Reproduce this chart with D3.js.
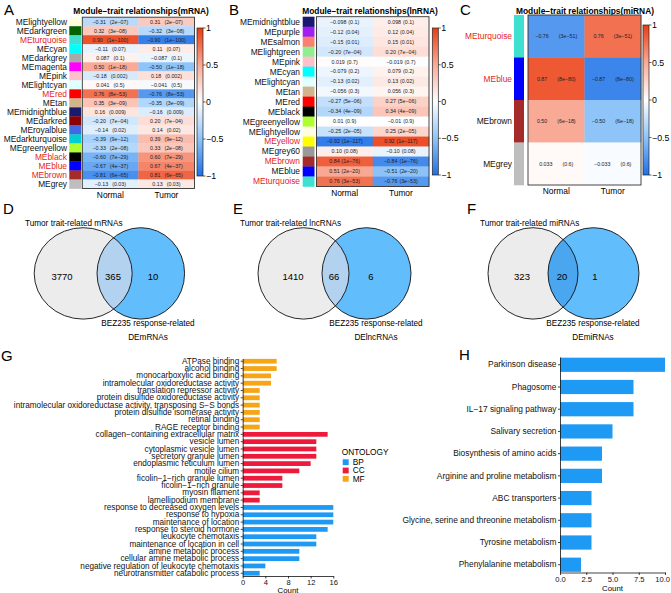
<!DOCTYPE html>
<html>
<head>
<meta charset="utf-8">
<script src="https://cdn.jsdelivr.net/npm/d3@7"></script>
<style>
  body { margin: 0; background: #fff; }
  text { font-family: "Liberation Sans", Arial, sans-serif; }
</style>
</head>
<body>
<script>
// ---------- data: module-trait heatmaps ----------
var mrnaModules = ["lightyellow", "darkgreen", "turquoise", "cyan", "darkgrey", "magenta", "pink", "lightcyan", "red", "tan",
  "midnightblue", "darkred", "royalblue", "darkturquoise", "greenyellow", "black", "blue", "brown", "grey"];
var mrnaNormal = ["-0.31", "0.32", "0.90", "-0.11", "0.087", "0.50", "-0.18", "0.041", "0.76", "0.35",
  "0.16", "-0.20", "-0.14", "-0.39", "-0.33", "-0.60", "-0.67", "-0.81", "-0.13"];
var mrnaTumor = ["0.31", "-0.32", "-0.90", "0.11", "-0.087", "-0.50", "0.18", "-0.041", "-0.76", "-0.35",
  "-0.16", "0.20", "0.14", "0.39", "0.33", "0.60", "0.67", "0.81", "0.13"];
var mrnaP = ["2e-07", "3e-08", "1e-100", "0.07", "0.1", "1e-18", "0.002", "0.5", "8e-53", "3e-09",
  "0.009", "7e-04", "0.02", "9e-12", "2e-08", "7e-29", "4e-37", "6e-65", "0.03"];
var mrnaHighlight = ["turquoise", "red", "black", "blue", "brown"];

var lncModules = ["midnightblue", "purple", "salmon", "lightgreen", "pink", "cyan", "lightcyan", "tan", "red", "black",
  "greenyellow", "lightyellow", "yellow", "grey60", "brown", "blue", "turquoise"];
var lncNormal = ["-0.098", "-0.12", "-0.15", "-0.20", "0.019", "-0.079", "-0.13", "-0.056", "-0.27", "-0.34",
  "0.01", "-0.25", "-0.92", "0.10", "0.84", "0.51", "0.76"];
var lncTumor = ["0.098", "0.12", "0.15", "0.20", "-0.019", "0.079", "0.13", "0.056", "0.27", "0.34",
  "-0.01", "0.25", "0.92", "-0.10", "-0.84", "-0.51", "-0.76"];
var lncP = ["0.1", "0.04", "0.01", "7e-04", "0.7", "0.2", "0.02", "0.3", "5e-06", "4e-09",
  "0.9", "2e-05", "1e-117", "0.08", "1e-76", "2e-20", "3e-53"];
var lncHighlight = ["yellow", "brown", "turquoise"];

var miModules = ["turquoise", "blue", "brown", "grey"];
var miNormal = ["-0.76", "0.87", "0.50", "0.033"];
var miTumor = ["0.76", "-0.87", "-0.50", "-0.033"];
var miP = ["3e-51", "8e-80", "6e-18", "0.6"];
var miHighlight = ["turquoise", "blue"];

var traits = ["Normal", "Tumor"];
var colorbarTicks = [1, 0.5, 0, -0.5, -1];

var moduleColors = {
  lightyellow: "#FFFFE0", darkgreen: "#006400", turquoise: "#40E0D0", cyan: "#00FFFF", darkgrey: "#A9A9A9",
  magenta: "#FF00FF", pink: "#FFC0CB", lightcyan: "#E0FFFF", red: "#FF0000", tan: "#D2B48C",
  midnightblue: "#191970", darkred: "#8B0000", royalblue: "#4169E1", darkturquoise: "#00CED1",
  greenyellow: "#ADFF2F", black: "#000000", blue: "#0000FF", brown: "#A52A2A", grey: "#BEBEBE",
  purple: "#A020F0", salmon: "#FA8072", lightgreen: "#90EE90", yellow: "#FFFF00", grey60: "#999999"
};

// ---------- data: venn diagrams ----------
var vennLeft = [3770, 1410, 323];
var vennShared = [365, 66, 20];
var vennRight = [10, 6, 1];
var vennTopLabels = ["Tumor trait-related mRNAs", "Tumor trait-related lncRNAs", "Tumor trait-related miRNAs"];
var vennBottomLabels = ["DEmRNAs", "DElncRNAs", "DEmiRNAs"];

// ---------- data: GO enrichment ----------
var goTerms = ["ATPase binding", "alcohol binding", "monocarboxylic acid binding", "intramolecular oxidoreductase activity",
  "translation repressor activity", "protein disulfide oxidoreductase activity",
  "intramolecular oxidoreductase activity, transposing S\u2212S bonds", "protein disulfide isomerase activity",
  "retinal binding", "RAGE receptor binding",
  "collagen\u2212containing extracellular matrix", "vesicle lumen", "cytoplasmic vesicle lumen", "secretory granule lumen",
  "endoplasmic reticulum lumen", "motile cilium", "ficolin\u22121\u2212rich granule lumen", "ficolin\u22121\u2212rich granule",
  "myosin filament", "lamellipodium membrane",
  "response to decreased oxygen levels", "response to hypoxia", "maintenance of location", "response to steroid hormone",
  "leukocyte chemotaxis", "maintenance of location in cell", "amine metabolic process", "cellular amine metabolic process",
  "negative regulation of leukocyte chemotaxis", "neurotransmitter catabolic process"];
var goCounts = [6, 6, 5, 5, 3, 3, 3, 3, 3, 3,
  15, 13, 13, 13, 12, 10, 7, 7, 3, 3,
  16, 16, 16, 15, 13, 13, 10, 10, 4, 3];
var goOntology = ["MF", "MF", "MF", "MF", "MF", "MF", "MF", "MF", "MF", "MF",
  "CC", "CC", "CC", "CC", "CC", "CC", "CC", "CC", "CC", "CC",
  "BP", "BP", "BP", "BP", "BP", "BP", "BP", "BP", "BP", "BP"];
var ontologyLevels = ["BP", "CC", "MF"];
var goTicks = [0, 4, 8, 12, 16];

// ---------- data: KEGG enrichment ----------
var keggTerms = ["Parkinson disease", "Phagosome", "IL\u221217 signaling pathway", "Salivary secretion",
  "Biosynthesis of amino acids", "Arginine and proline metabolism", "ABC transporters",
  "Glycine, serine and threonine metabolism", "Tyrosine metabolism", "Phenylalanine metabolism"];
var keggCounts = [10, 7, 7, 5, 4, 4, 3, 3, 3, 2];
var keggTicks = [0, 2.5, 5, 7.5, 10];

// ---------- drawing ----------
var W = 671, H = 593;
var svg = d3.select("body").append("svg").attr("width", W).attr("height", H);
svg.append("rect").attr("width", W).attr("height", H).attr("fill", "#fff");
var defs = svg.append("defs");

var heat = d3.scaleLinear()
  .domain([-1, -0.5, 0, 0.5, 1])
  .range(["#1f6fe6", "#8ec4f8", "#ffffff", "#f9aa96", "#ea3c12"]);
var RED = "#e41e1e";

function minus(s) { return s.replace(/-/g, "\u2212"); }

function panelLetter(t, x, y) {
  svg.append("text").attr("x", x).attr("y", y).attr("font-size", 15).text(t);
}

function heatmap(c) {
  var g = svg.append("g");
  var y = d3.scaleBand().domain(c.modules).range([c.top, c.bottom]);
  var x = d3.scaleBand().domain(traits).range([c.left, c.right]);
  var cols = [c.normal, c.tumor];

  g.append("text").attr("x", c.titleX).attr("y", 14).attr("text-anchor", "middle")
    .attr("font-size", 8.4).attr("font-weight", "bold")
    .text("Module\u2212trait relationships(" + c.kind + ")");

  c.modules.forEach(function (m, i) {
    traits.forEach(function (t, j) {
      g.append("rect").attr("x", x(t)).attr("y", y(m))
        .attr("width", x.bandwidth() + 0.3).attr("height", y.bandwidth() + 0.3)
        .attr("fill", heat(+cols[j][i]));
      var txt = g.append("text").attr("x", x(t) + x.bandwidth() / 2).attr("y", y(m) + y.bandwidth() / 2)
        .attr("dy", "0.35em").attr("text-anchor", "middle").attr("font-size", 5.3).attr("fill", "#222");
      txt.append("tspan").text(minus(cols[j][i]));
      txt.append("tspan").attr("dx", c.gap).text("(" + minus(c.p[i]) + ")");
    });
    g.append("rect").attr("x", c.swX).attr("y", y(m)).attr("width", c.swW).attr("height", y.bandwidth() + 0.3)
      .attr("fill", moduleColors[m]);
    g.append("text").attr("x", c.labelX).attr("y", y(m) + y.bandwidth() / 2).attr("dy", "0.35em")
      .attr("text-anchor", "end").attr("font-size", 8.4)
      .attr("fill", c.highlight.indexOf(m) >= 0 ? RED : "#111")
      .text("ME" + m);
  });

  g.append("rect").attr("x", c.left).attr("y", c.top).attr("width", c.right - c.left).attr("height", c.bottom - c.top)
    .attr("fill", "none").attr("stroke", "#333").attr("stroke-width", 0.9);

  traits.forEach(function (t) {
    g.append("text").attr("x", x(t) + x.bandwidth() / 2).attr("y", c.bottom + 9)
      .attr("text-anchor", "middle").attr("font-size", 8.4).text(t);
  });

  // colour bar
  var gid = "grad-" + c.kind;
  var grad = defs.append("linearGradient").attr("id", gid).attr("x1", 0).attr("x2", 0).attr("y1", 0).attr("y2", 1);
  d3.range(0, 1.0001, 0.05).forEach(function (f) {
    grad.append("stop").attr("offset", f).attr("stop-color", heat(1 - 2 * f));
  });
  var cy = d3.scaleLinear().domain([1, -1]).range([c.cbTop, c.cbBottom]);
  g.append("rect").attr("x", c.cbX).attr("y", c.cbTop).attr("width", 6).attr("height", c.cbBottom - c.cbTop)
    .attr("fill", "url(#" + gid + ")").attr("stroke", "#222").attr("stroke-width", 0.7);
  colorbarTicks.forEach(function (v) {
    g.append("line").attr("x1", c.cbX + 6).attr("x2", c.cbX + 8.5).attr("y1", cy(v)).attr("y2", cy(v))
      .attr("stroke", "#222").attr("stroke-width", 0.7);
    g.append("text").attr("x", c.cbX + 9).attr("y", cy(v)).attr("dy", "0.35em").attr("font-size", 8.8)
      .text(v === 0 ? "0" : minus(String(v)));
  });
}

panelLetter("A", 4, 15);
heatmap({ kind: "mRNA", modules: mrnaModules, normal: mrnaNormal, tumor: mrnaTumor, p: mrnaP, highlight: mrnaHighlight,
  left: 82.3, right: 194.5, top: 17.2, bottom: 188.5, swX: 69.3, swW: 12, labelX: 67, titleX: 141,
  cbX: 197, cbTop: 28, cbBottom: 176, gap: 4 });

panelLetter("B", 229, 15);
heatmap({ kind: "lnRNA", modules: lncModules, normal: lncNormal, tumor: lncTumor, p: lncP, highlight: lncHighlight,
  left: 316.5, right: 429, top: 16.7, bottom: 186.5, swX: 302.7, swW: 11.8, labelX: 300, titleX: 370,
  cbX: 432.3, cbTop: 28, cbBottom: 175, gap: 2 });

panelLetter("C", 460, 15);
heatmap({ kind: "miRNA", modules: miModules, normal: miNormal, tumor: miTumor, p: miP, highlight: miHighlight,
  left: 528, right: 641, top: 15, bottom: 185, swX: 514, swW: 10, labelX: 512, titleX: 585,
  cbX: 643, cbTop: 25, cbBottom: 175, gap: 10 });

// ---------- venn diagrams ----------
var vennGeom = [
  { letterX: 3, L: [83.2, 49], R: [140.8, 43.8], topX: 25, botX: 148, numX: [62, 113, 153] },
  { letterX: 233, L: [303.5, 45.5], R: [366.5, 44.5], topX: 240, botX: 376, numX: [293, 334, 371] },
  { letterX: 467, L: [533, 45], R: [593.5, 45.5], topX: 480, botX: 593, numX: [522, 562, 595] }
];
var vennInterFill = ["#b3d2ef", "#b3d2ef", "#4aa6ee"];
var vcy = 273.4, vry = 45.7;

vennGeom.forEach(function (v, i) {
  var g = svg.append("g");
  panelLetter(["D", "E", "F"][i], v.letterX, 214);
  var cid = "vclip" + i;
  defs.append("clipPath").attr("id", cid).append("ellipse")
    .attr("cx", v.L[0]).attr("cy", vcy).attr("rx", v.L[1]).attr("ry", vry);
  g.append("ellipse").attr("cx", v.L[0]).attr("cy", vcy).attr("rx", v.L[1]).attr("ry", vry).attr("fill", "#ececec");
  g.append("ellipse").attr("cx", v.R[0]).attr("cy", vcy).attr("rx", v.R[1]).attr("ry", vry).attr("fill", "#62bdfc");
  g.append("ellipse").attr("cx", v.R[0]).attr("cy", vcy).attr("rx", v.R[1]).attr("ry", vry)
    .attr("fill", vennInterFill[i]).attr("clip-path", "url(#" + cid + ")");
  [v.L, v.R].forEach(function (e) {
    g.append("ellipse").attr("cx", e[0]).attr("cy", vcy).attr("rx", e[1]).attr("ry", vry)
      .attr("fill", "none").attr("stroke", "#111").attr("stroke-width", 0.9);
  });
  [vennLeft[i], vennShared[i], vennRight[i]].forEach(function (n, k) {
    g.append("text").attr("x", v.numX[k]).attr("y", 280).attr("text-anchor", "middle").attr("font-size", 9.5).text(n);
  });
  g.append("text").attr("x", v.topX).attr("y", 226).attr("font-size", 8.2).text(vennTopLabels[i]);
  g.append("text").attr("x", v.botX).attr("y", 326).attr("text-anchor", "middle").attr("font-size", 8.2)
    .text("BEZ235 response-related");
  g.append("text").attr("x", v.botX).attr("y", 339.5).attr("text-anchor", "middle").attr("font-size", 8.2)
    .text(vennBottomLabels[i]);
});

// ---------- GO bar chart ----------
var ontColor = { BP: "#1e9af5", CC: "#ee1a3c", MF: "#f5a516" };
panelLetter("G", 1, 361);
(function () {
  var g = svg.append("g");
  var x = d3.scaleLinear().domain([0, 16]).range([242.7, 333.3]);
  var y = d3.scaleBand().domain(goTerms).range([358.5, 576]).paddingInner(0.35).paddingOuter(0.05);
  g.selectAll("rect.bar").data(goTerms).join("rect").attr("class", "bar")
    .attr("x", x(0)).attr("y", function (d) { return y(d); })
    .attr("width", function (d, i) { return x(goCounts[i]) - x(0); })
    .attr("height", y.bandwidth())
    .attr("fill", function (d, i) { return ontColor[goOntology[i]]; });
  var ya = g.append("g").attr("transform", "translate(" + x(0) + ",0)")
    .call(d3.axisLeft(y).tickSize(2).tickSizeOuter(0).tickPadding(1.5));
  ya.selectAll("text").attr("font-size", 8.2).attr("fill", "#111").attr("font-family", "Liberation Sans, Arial, sans-serif");
  var xa = g.append("g").attr("transform", "translate(0,576)")
    .call(d3.axisBottom(x).tickValues(goTicks).tickSize(2.5).tickSizeOuter(0).tickPadding(1));
  xa.selectAll("text").attr("font-size", 7.6).attr("fill", "#111").attr("font-family", "Liberation Sans, Arial, sans-serif");
  [ya, xa].forEach(function (a) { a.selectAll("path,line").attr("stroke", "#111").attr("stroke-width", 0.8); });
  g.append("text").attr("x", x(8)).attr("y", 592.5).attr("text-anchor", "middle").attr("font-size", 7.8).text("Count");

  // legend
  g.append("text").attr("x", 341.7).attr("y", 455).attr("font-size", 8.3).text("ONTOLOGY");
  ontologyLevels.forEach(function (o, i) {
    g.append("rect").attr("x", 342.7).attr("y", 459.3 + i * 8.3).attr("width", 6).attr("height", 5.8).attr("fill", ontColor[o]);
    g.append("text").attr("x", 352.7).attr("y", 465 + i * 8.3).attr("font-size", 8.3).text(o);
  });
})();

// ---------- KEGG bar chart ----------
panelLetter("H", 459, 360);
(function () {
  var g = svg.append("g");
  var x = d3.scaleLinear().domain([0, 10]).range([560, 665]);
  var y = d3.scaleBand().domain(keggTerms).range([357, 572.5]).paddingInner(0.36).paddingOuter(0.03);
  g.selectAll("rect.bar").data(keggTerms).join("rect").attr("class", "bar")
    .attr("x", x(0)).attr("y", function (d) { return y(d); })
    .attr("width", function (d, i) { return x(keggCounts[i]) - x(0); })
    .attr("height", y.bandwidth())
    .attr("fill", "#1e9af5");
  var ya = g.append("g").attr("transform", "translate(" + x(0) + ",0)")
    .call(d3.axisLeft(y).tickSize(2).tickSizeOuter(0).tickPadding(1.5));
  ya.selectAll("text").attr("font-size", 8.4).attr("fill", "#111").attr("font-family", "Liberation Sans, Arial, sans-serif");
  var xa = g.append("g").attr("transform", "translate(0,572.5)")
    .call(d3.axisBottom(x).tickValues(keggTicks).tickFormat(d3.format(".1f")).tickSize(2.5).tickSizeOuter(0).tickPadding(1.5));
  xa.selectAll("text").attr("font-size", 7.6).attr("fill", "#111").attr("font-family", "Liberation Sans, Arial, sans-serif");
  // keep the last tick label inside the page
  xa.selectAll(".tick").filter(function (d) { return d === 10; }).select("text")
    .attr("text-anchor", "end").attr("dx", 4.5);
  [ya, xa].forEach(function (a) { a.selectAll("path,line").attr("stroke", "#111").attr("stroke-width", 0.8); });
  g.append("text").attr("x", x(5)).attr("y", 591).attr("text-anchor", "middle").attr("font-size", 7.8).text("Count");
})();
</script>
</body>
</html>
